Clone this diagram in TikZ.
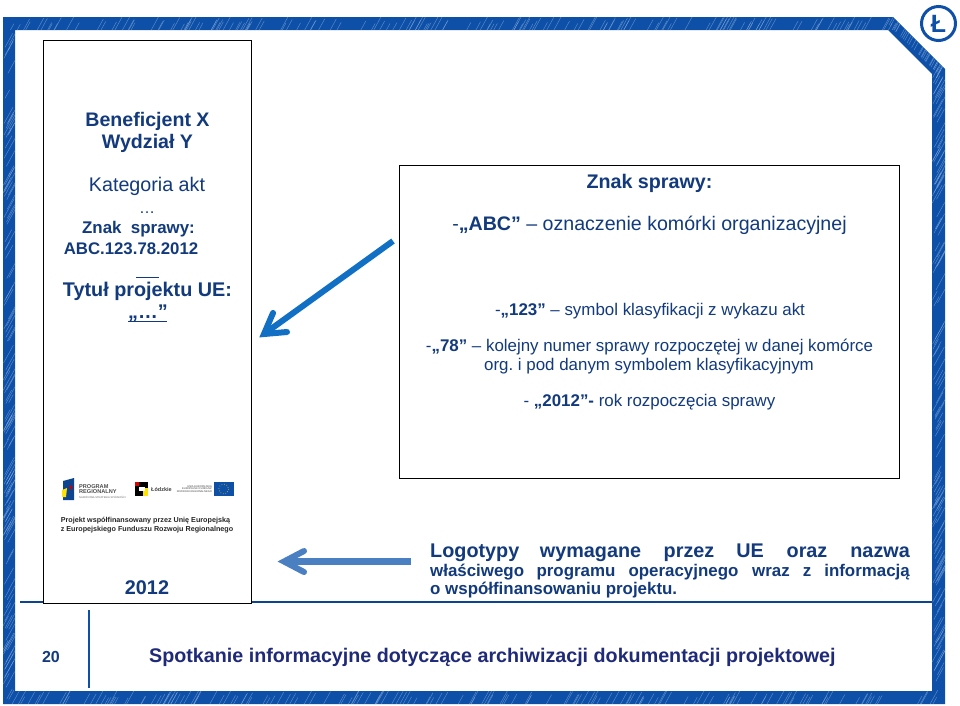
\documentclass[tikz,border=0pt]{standalone}
\usepackage{fontspec}
\setmainfont{Liberation Sans}
\frenchspacing
\definecolor{frameblue}{HTML}{0E50A8}
\definecolor{streak}{HTML}{8FB3E0}
\definecolor{navy}{HTML}{123A7C}
\definecolor{titlenavy}{HTML}{1F2A78}
\definecolor{arrowa}{HTML}{1170C4}
\definecolor{arrowb}{HTML}{4A7FC1}
\tikzset{
  x=1pt,y=-1pt,
  txt/.style={font=\fontsize{#1}{#1}\selectfont,text=navy,inner sep=0pt,anchor=center},
  btxt/.style={font=\bfseries\fontsize{#1}{#1}\selectfont,text=navy,inner sep=0pt,anchor=center},
  lgone/.style={btxt=19.8,anchor=base},
  lgtwo/.style={btxt=16.9,anchor=base},
  boxk/.style={draw=black,line width=1.2pt,fill=white},
  arrowline/.style={line width=#1,line cap=round,line join=miter,miter limit=10},
  tiny/.style={font=\fontsize{#1}{#1}\selectfont,inner sep=0pt,text=black},
  scratch/.style={streak,line width=0.45pt,opacity=.6}
}
\begin{document}
\begin{tikzpicture}
\useasboundingbox (0,0) rectangle (960,705);
\fill[white] (0,0) rectangle (960,705);
% frame
\fill[frameblue,even odd rule] (3,17) -- (893,17) -- (945,69) -- (945,704) -- (3,704) -- cycle
  (15,30) -- (888,30) -- (932,74) -- (932,691) -- (15,691) -- cycle;
\begin{scope}[even odd rule]
\clip (3,17) -- (893,17) -- (945,69) -- (945,704) -- (3,704) -- cycle
  (15,30) -- (888,30) -- (932,74) -- (932,691) -- (15,691) -- cycle;
\pgfmathsetseed{17}
\foreach \n in {1,...,170}{
  \pgfmathsetmacro{\sx}{3+rnd*890}
  \pgfmathsetmacro{\sl}{6+rnd*8}
  \draw[scratch] (\sx,30) -- ++(0.55*\sl,-\sl);
  \pgfmathsetmacro{\sx}{3+rnd*940}
  \pgfmathsetmacro{\sl}{6+rnd*8}
  \draw[scratch] (\sx,704) -- ++(0.55*\sl,-\sl);
}
\foreach \n in {1,...,130}{
  \pgfmathsetmacro{\sy}{30+rnd*670}
  \pgfmathsetmacro{\sl}{8+rnd*14}
  \draw[scratch] (3+rnd*6,\sy) -- ++(0.55*\sl,-\sl);
  \pgfmathsetmacro{\sy}{74+rnd*620}
  \pgfmathsetmacro{\sl}{8+rnd*14}
  \draw[scratch] (932+rnd*6,\sy) -- ++(0.55*\sl,-\sl);
}
\foreach \n in {1,...,30}{
  \pgfmathsetmacro{\st}{rnd*50}
  \pgfmathsetmacro{\sl}{8+rnd*10}
  \draw[scratch] (888+\st,24+\st) -- ++(0.55*\sl,-\sl);
}
\end{scope}
% logo
\node[circle,draw=frameblue,line width=3pt,minimum size=34pt,inner sep=0pt,
  font=\bfseries\fontsize{25}{25}\selectfont,text=frameblue] (logo) at (938.5,23.5) {Ł};
% separators
\coordinate (sepL) at (20,602);
\coordinate (sepR) at (932,602);
\draw[frameblue!85!black,line width=1.3pt] (sepL) -- (sepR);
\coordinate (vT) at (89,610);
\coordinate (vB) at (89,688);
\draw[frameblue,line width=2.2pt] (vT) -- (vB);
% left panel
\node[boxk,minimum width=208pt,minimum height=563pt,inner sep=0pt,anchor=north west] (panel) at (43,40) {};
\node[btxt=19.6,font=\bfseries\fontsize{19.6}{22}\selectfont,align=center] (benef) at (147.5,132) {Beneficjent X\\Wydział Y};
\node[txt=19.7] (kat) at (147,186) {Kategoria akt};
\node[txt=16] (dots) at (147,213) {…};
\node[btxt=16.9] (znak) at (138.5,229.5) {Znak\ \ sprawy:};
\node[btxt=16.8] (abc) at (131,249) {ABC.123.78.2012};
\coordinate (ulA) at (136,277);
\coordinate (ulB) at (159,277);
\draw[navy,line width=0.7pt] (ulA) -- (ulB);
\node[btxt=19.8] (tytul) at (147.5,291) {Tytuł projektu UE:};
\node[btxt=19.8,anchor=base west] (q1) at (128,318) {„…”};
\coordinate (ulC) at (128,321);
\coordinate (ulD) at (167,321);
\draw[navy,line width=0.7pt] (ulC) -- (ulD);
% logos
\fill[frameblue!85!black] (63,481) -- (74,478) -- (74,500) -- (63,500) -- cycle;
\fill[yellow!85!orange] (62,490) -- (67,488) -- (66,497) -- (62,497) -- cycle;
\fill[red!80!black] (69,487) -- (72,485) -- (72,490) -- cycle;
\node[tiny=5.6,text=black!70,font=\bfseries\fontsize{5.6}{5.8}\selectfont,align=left,anchor=west] (prog) at (79,489) {PROGRAM\\REGIONALNY};
\node[tiny=2.6,text=black!60,anchor=west] (strat) at (79,497) {NARODOWA STRATEGIA SPÓJNOŚCI};
\fill[black] (135,482) rectangle (148,496);
\fill[yellow!85!orange] (143,488) rectangle (148,496);
\fill[white] (139,487) rectangle (145,491);
\fill[red!85!black] (135,482) rectangle (139,486);
\node[tiny=5.5,text=black!75,font=\bfseries\fontsize{5.5}{5.5}\selectfont,anchor=west] (lodz) at (151,489) {Łódzkie};
\fill[frameblue] (214,482) rectangle (233.5,496);
\draw[yellow!80!orange,line width=.6pt,dotted] (223.7,489) circle (5);
\node[tiny=2.6,text=black!75,font=\fontsize{2.6}{2.9}\selectfont,align=right,anchor=east] (unia) at (212,489) {UNIA EUROPEJSKA\\EUROPEJSKI FUNDUSZ\\ROZWOJU REGIONALNEGO};
\node[tiny=7.2,font=\bfseries\fontsize{7.2}{9.5}\selectfont,align=left,text=black!85] (proj) at (147,525) {Projekt współfinansowany przez Unię Europejską\\z Europejskiego Funduszu Rozwoju Regionalnego};
\node[btxt=19.8] (yr) at (147,588) {2012};
% right panel
\node[boxk,minimum width=500pt,minimum height=313pt,inner sep=0pt,anchor=north west] (info) at (399,165) {};
\node[btxt=19.7] (zs) at (649.5,183.5) {Znak sprawy:};
\node[txt=19.6] (l1) at (649.5,225) {-{\bfseries„ABC”} – oznaczenie komórki organizacyjnej};
\node[txt=16.9] (l2) at (650,311) {-{\bfseries„123”} – symbol klasyfikacji z wykazu akt};
\node[txt=16.9] (l3) at (649.5,347) {-{\bfseries„78”} – kolejny numer sprawy rozpoczętej w danej komórce};
\node[txt=16.9] (l4) at (649,366) {org. i pod danym symbolem klasyfikacyjnym};
\node[txt=16.9] (l5) at (649.5,402) {- {\bfseries„2012”-} rok rozpoczęcia sprawy};
% arrows
\coordinate (a1s) at (393,241);
\coordinate (a1e) at (264,334);
\draw[arrowa,line width=6pt] (a1s) -- (a1e);
\draw[arrowa,arrowline=6pt] (273,313) -- (a1e) -- (287,332);
\coordinate (a2s) at (411,561.5);
\coordinate (a2e) at (284,561.5);
\draw[arrowb,line width=6.5pt] (a2s) -- (a2e);
\draw[arrowb,arrowline=6pt] (304,551) -- (a2e) -- (304,572);
% logo text
\node[lgone,anchor=base west] (lg1) at (430,557.5) {Logotypy};
\node[lgone] (lg1b) at (590.5,557.5) {wymagane};
\node[lgone] (lg1c) at (689,557.5) {przez};
\node[lgone] (lg1d) at (750,557.5) {UE};
\node[lgone] (lg1e) at (807,557.5) {oraz};
\node[lgone,anchor=base east] (lg1f) at (910,557.5) {nazwa};
\node[lgtwo,anchor=base west] (lg2) at (430,576) {właściwego};
\node[lgtwo] (lg2b) at (576,576) {programu};
\node[lgtwo] (lg2c) at (683.5,576) {operacyjnego};
\node[lgtwo] (lg2d) at (771,576) {wraz};
\node[lgtwo] (lg2e) at (807,576) {z};
\node[lgtwo,anchor=base east] (lg2f) at (910,576) {informacją};
\node[lgtwo,anchor=base west] (lg3) at (430,594) {o współfinansowaniu projektu.};
% footer
\node[btxt=16] (pg) at (51,657) {20};
\node[btxt=19.7,text=titlenavy,anchor=west] (foot) at (149,657) {Spotkanie informacyjne dotyczące archiwizacji dokumentacji projektowej};
\end{tikzpicture}
\end{document}
